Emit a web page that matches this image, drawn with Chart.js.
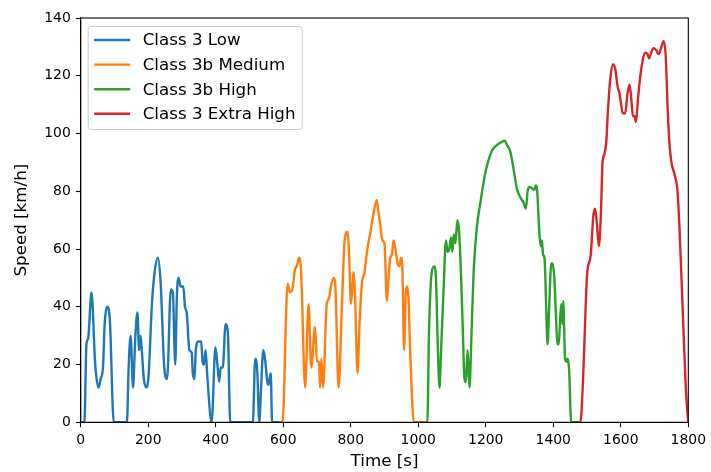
<!DOCTYPE html>
<html>
<head>
<meta charset="utf-8">
<script src="https://cdn.jsdelivr.net/npm/chart.js@4.4.1/dist/chart.umd.min.js"></script>
<style>
  html, body { margin: 0; padding: 0; background: #ffffff; }
  #wrap { width: 711px; height: 472px; }
</style>
</head>
<body>
<div id="wrap"><canvas id="cycle-chart" width="711" height="472"></canvas></div>
<script>
// ───────────────────────── DATA ─────────────────────────
const seriesNames = ["Class 3 Low", "Class 3b Medium", "Class 3b High", "Class 3 Extra High"];
const seriesColors = ["#1f77b4", "#ff7f0e", "#2ca02c", "#d62728"];

const lowTime  = [0, 11, 17, 22, 32, 43, 53, 59, 66, 71, 78, 86, 98, 137, 142, 148, 155, 162, 168, 173, 177, 181, 187, 195, 201, 211, 219, 229, 237, 247, 256, 267, 273, 280, 285, 290, 296, 304, 309, 314, 322, 329, 332, 337, 341, 349, 357, 361, 365, 370, 375, 388, 399, 405, 410, 415, 421, 429, 436, 443, 510, 517, 523, 529, 534, 541, 546, 553, 556, 563, 567, 589];
const lowSpeed = [0, 0, 27, 29, 45, 20, 12, 15, 19, 34, 40, 36, 0, 0, 19, 30, 12, 30, 38, 25, 30, 25, 15, 12, 16, 41, 52, 57, 48, 20, 15, 46, 45, 20, 44, 50, 47, 47, 40, 38, 25, 24, 17, 15, 25, 28, 28, 21, 20, 25, 16, 0, 26, 20, 14, 19, 19, 34, 31, 0, 0, 22, 18, 0, 11, 25, 22, 14, 13, 17, 0, 0];

const medTime  = [589, 598, 613, 620, 627, 635, 640, 647, 653, 665, 675, 683, 694, 700, 706, 709, 713, 718, 729, 736, 741, 749, 754, 764, 774, 782, 791, 795, 801, 808, 813, 820, 826, 833, 841, 846, 852, 857, 867, 877, 882, 887, 894, 900, 907, 912, 917, 922, 927, 931, 939, 944, 949, 953, 958, 963, 967, 971, 976, 987, 1022];
const medSpeed = [0, 0, 48, 45, 46, 53, 54, 57, 52, 12, 41, 19, 33, 21, 21, 12, 22, 12, 41, 43, 47, 50, 48, 12, 41, 63, 66, 58, 41, 52, 43, 17, 34, 48, 52, 57, 62, 65, 72, 77, 73, 69, 63, 62, 42, 50, 57, 58, 63, 61, 55, 54, 57, 53, 25, 45, 47, 43, 25, 0, 0];

const highTime  = [1022, 1027, 1032, 1040, 1047, 1052, 1058, 1063, 1068, 1075, 1082, 1087, 1092, 1097, 1101, 1105, 1110, 1116, 1121, 1127, 1132, 1137, 1141, 1146, 1149, 1152, 1157, 1164, 1174, 1184, 1198, 1218, 1233, 1246, 1256, 1263, 1272, 1282, 1292, 1302, 1312, 1319, 1324, 1330, 1337, 1344, 1348, 1352, 1359, 1363, 1366, 1370, 1374, 1378, 1383, 1388, 1394, 1398, 1403, 1408, 1412, 1416, 1421, 1424, 1427, 1430, 1432, 1435, 1439, 1443, 1447, 1453, 1477];
const highSpeed = [0, 0, 32, 52, 54, 51, 26, 12, 26, 46, 63, 59, 60, 64, 59, 65, 62, 70, 66, 50, 32, 15, 14, 25, 18, 12, 28, 52, 68, 76, 86, 94, 96, 97, 97.5, 96, 94, 88, 81, 78, 76, 74, 80, 81.5, 81, 80.5, 82, 80.5, 65, 61, 63, 58, 57, 44, 27, 40, 55, 55, 50, 37, 27, 27, 37, 41, 34, 42, 34, 22, 21, 22, 18, 0, 0];

const xhTime  = [1477, 1480, 1488, 1495, 1500, 1511, 1519, 1524, 1529, 1535, 1541, 1546, 1552, 1557, 1562, 1569, 1577, 1584, 1591, 1596, 1601, 1606, 1613, 1620, 1626, 1631, 1636, 1641, 1645, 1651, 1658, 1666, 1673, 1679, 1684, 1690, 1697, 1704, 1712, 1719, 1727, 1733, 1739, 1744, 1750, 1759, 1768, 1774, 1784, 1794, 1800];
const xhSpeed = [0, 0, 14, 37, 51, 58, 72, 74, 69, 61, 72, 90, 93, 97, 108, 119, 124, 122, 116, 114, 110, 107, 107, 114, 117, 112, 106, 106, 104, 112, 120, 126, 128, 127.5, 126, 128, 129.5, 129, 127.5, 129.5, 132, 127, 108, 97, 90, 86, 80, 67, 37, 9, 0];

const xTicks = [0, 200, 400, 600, 800, 1000, 1200, 1400, 1600, 1800];
const yTicks = [0, 20, 40, 60, 80, 100, 120, 140];

const timeSets  = [lowTime, medTime, highTime, xhTime];
const speedSets = [lowSpeed, medSpeed, highSpeed, xhSpeed];

// ───────────────────────── PLUGINS ─────────────────────────
const FONT = "'DejaVu Sans', sans-serif";
const TICK_SIZE  = 13.9;   // tick labels
const LABEL_SIZE = 16.7;   // axis titles + legend (bigger in the reference)

// frame on all four sides, like the matplotlib axes box
const framePlugin = {
    id: "frame",
    afterDatasetsDraw(chart) {
        const { ctx, chartArea: a } = chart;
        ctx.save();
        ctx.strokeStyle = "#000000";
        ctx.lineWidth = 1.1;
        ctx.strokeRect(a.left, a.top, a.right - a.left, a.bottom - a.top);
        ctx.restore();
    }
};

// legend box in the upper left of the plot area
const legendPlugin = {
    id: "boxLegend",
    afterDraw(chart) {
        const { ctx, chartArea: a } = chart;
        const x0 = a.left + 7.5, y0 = a.top + 8.5, w = 214, h = 103;
        ctx.save();
        ctx.beginPath();
        ctx.roundRect(x0, y0, w, h, 3);
        ctx.fillStyle = "rgba(255,255,255,0.8)";
        ctx.fill();
        ctx.strokeStyle = "#cccccc";
        ctx.lineWidth = 1;
        ctx.stroke();

        ctx.font = LABEL_SIZE + "px " + FONT;
        ctx.textBaseline = "middle";
        ctx.textAlign = "left";
        chart.data.datasets.forEach((ds, i) => {
            const yy = y0 + 13.5 + i * 24.6;
            ctx.beginPath();
            ctx.moveTo(x0 + 6, yy);
            ctx.lineTo(x0 + 42, yy);
            ctx.strokeStyle = ds.borderColor;
            ctx.lineWidth = 2.4;
            ctx.stroke();
            ctx.fillStyle = "#000000";
            ctx.fillText(ds.label, x0 + 54.5, yy + 1);
        });
        ctx.restore();
    }
};

// ───────────────────────── CHART SETUP ─────────────────────────
const datasets = seriesNames.map((name, i) => ({
    label: name,
    data: timeSets[i].map((t, k) => ({ x: t, y: speedSets[i][k] })),
    borderColor: seriesColors[i],
    backgroundColor: seriesColors[i],
    borderWidth: 2.4,
    pointRadius: 0,
    cubicInterpolationMode: "monotone",
    fill: false
}));

const ctx = document.getElementById("cycle-chart").getContext("2d");
new Chart(ctx, {
    type: "line",
    data: { datasets },
    options: {
        responsive: false,
        animation: false,
        devicePixelRatio: 1,
        layout: { padding: { left: 0, right: 22.7, top: 18, bottom: 0 } },
        plugins: {
            legend:  { display: false },
            tooltip: { enabled: false }
        },
        scales: {
            x: {
                type: "linear",
                min: 0, max: 1800,
                afterBuildTicks: (s) => { s.ticks = xTicks.map(v => ({ value: v })); },
                afterFit: (s) => { s.height = 49.7; },
                ticks: { color: "#000000", font: { family: FONT, size: TICK_SIZE }, padding: 5, maxRotation: 0, callback: v => String(v) },
                grid: { drawOnChartArea: false, drawTicks: true, tickLength: 4.9, tickWidth: 1.1, tickColor: "#000000" },
                border: { display: true, color: "#000000", width: 1.1 },
                title: { display: true, text: "Time [s]", color: "#000000", font: { family: FONT, size: LABEL_SIZE }, padding: { top: 0, bottom: 0 } }
            },
            y: {
                type: "linear",
                min: 0, max: 140,
                afterBuildTicks: (s) => { s.ticks = yTicks.map(v => ({ value: v })); },
                afterFit: (s) => { s.width = 80.7; },
                ticks: { color: "#000000", font: { family: FONT, size: TICK_SIZE }, padding: 5, callback: v => String(v) },
                grid: { drawOnChartArea: false, drawTicks: true, tickLength: 4.9, tickWidth: 1.1, tickColor: "#000000" },
                border: { display: true, color: "#000000", width: 1.1 },
                title: { display: true, text: "Speed [km/h]", color: "#000000", font: { family: FONT, size: LABEL_SIZE }, padding: { top: 12, bottom: 0 } }
            }
        }
    },
    plugins: [framePlugin, legendPlugin]
});
</script>
</body>
</html>
